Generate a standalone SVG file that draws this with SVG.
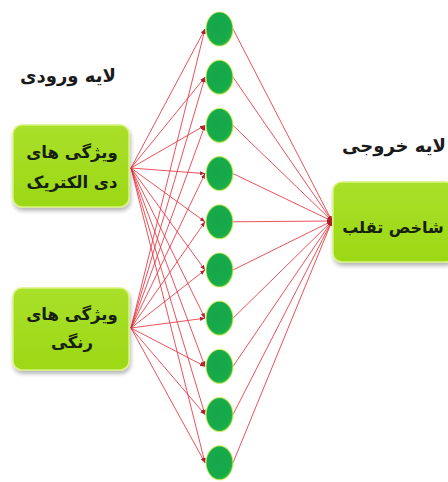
<svg xmlns="http://www.w3.org/2000/svg" width="448" height="482" viewBox="0 0 448 482">
  <style>
    .box { fill: url(#lime); stroke: #d9f27e; stroke-width: 1.5; filter: url(#shadow); }
    .lbl { font-family: "DejaVu Sans", sans-serif; font-weight: bold; fill: #16200f; text-anchor: middle; }
    .title { font-family: "DejaVu Sans", sans-serif; font-weight: bold; fill: #1a1a1a; text-anchor: middle; font-size: 18px; }
    .neuron { fill: url(#green); stroke: #d8f05a; stroke-width: 1.2; stroke-opacity: 0.7; filter: url(#soft); }
    .link { stroke: #e6343f; stroke-width: 1; stroke-opacity: 0.85; fill: none; }
  </style>
  <defs>
    <linearGradient id="lime" x1="0" y1="0" x2="0" y2="1">
      <stop offset="0" stop-color="#a9e02a"/>
      <stop offset="1" stop-color="#9bd815"/>
    </linearGradient>
    <radialGradient id="green" cx="0.45" cy="0.45" r="0.6">
      <stop offset="0" stop-color="#12a64c"/>
      <stop offset="0.75" stop-color="#14ab4a"/>
      <stop offset="1" stop-color="#3cbc3e"/>
    </radialGradient>
    <filter id="shadow" x="-10%" y="-10%" width="125%" height="130%">
      <feGaussianBlur in="SourceAlpha" stdDeviation="2"/>
      <feOffset dx="1" dy="3" result="b"/>
      <feComponentTransfer><feFuncA type="linear" slope="0.3"/></feComponentTransfer>
      <feMerge><feMergeNode/><feMergeNode in="SourceGraphic"/></feMerge>
    </filter>
    <filter id="soft" x="-20%" y="-20%" width="140%" height="140%">
      <feGaussianBlur stdDeviation="0.6"/>
    </filter>
    <marker id="arrow" viewBox="0 0 6 6" refX="6" refY="3" markerWidth="5" markerHeight="5" orient="auto">
      <path d="M0,0.5 L6,3 L0,5.5 z" fill="#b0202a"/>
    </marker>
  </defs>

  <rect width="448" height="482" fill="#ffffff"/>

  <!-- connectors: inputs to hidden neurons, hidden neurons to output -->
  <g id="connectors" class="link" marker-end="url(#arrow)">
    <line x1="131" y1="168" x2="205" y2="29"/>
    <line x1="131" y1="168" x2="205" y2="77.2"/>
    <line x1="131" y1="168" x2="205" y2="125.4"/>
    <line x1="131" y1="168" x2="205" y2="173.6"/>
    <line x1="131" y1="168" x2="205" y2="221.8"/>
    <line x1="131" y1="168" x2="205" y2="270"/>
    <line x1="131" y1="168" x2="205" y2="318.2"/>
    <line x1="131" y1="168" x2="205" y2="366.4"/>
    <line x1="131" y1="168" x2="205" y2="414.6"/>
    <line x1="131" y1="168" x2="205" y2="462.8"/>
    <line x1="131" y1="328" x2="205" y2="29"/>
    <line x1="131" y1="328" x2="205" y2="77.2"/>
    <line x1="131" y1="328" x2="205" y2="125.4"/>
    <line x1="131" y1="328" x2="205" y2="173.6"/>
    <line x1="131" y1="328" x2="205" y2="221.8"/>
    <line x1="131" y1="328" x2="205" y2="270"/>
    <line x1="131" y1="328" x2="205" y2="318.2"/>
    <line x1="131" y1="328" x2="205" y2="366.4"/>
    <line x1="131" y1="328" x2="205" y2="414.6"/>
    <line x1="131" y1="328" x2="205" y2="462.8"/>
    <line x1="233" y1="29" x2="332" y2="221"/>
    <line x1="233" y1="77.2" x2="332" y2="221"/>
    <line x1="233" y1="125.4" x2="332" y2="221"/>
    <line x1="233" y1="173.6" x2="332" y2="221"/>
    <line x1="233" y1="221.8" x2="332" y2="221"/>
    <line x1="233" y1="270" x2="332" y2="221"/>
    <line x1="233" y1="318.2" x2="332" y2="221"/>
    <line x1="233" y1="366.4" x2="332" y2="221"/>
    <line x1="233" y1="414.6" x2="332" y2="221"/>
    <line x1="233" y1="462.8" x2="332" y2="221"/>
  </g>

  <!-- layer titles -->
  <text class="title" x="68" y="82">لایه ورودی</text>
  <text class="title" x="394" y="152" font-size="17">لایه خروجی</text>

  <!-- input nodes -->
  <g id="input-dielectric">
    <rect class="box" x="13" y="125" width="116" height="82" rx="9"/>
    <text class="lbl" x="72" y="158" font-size="16.5">ویژگی های</text>
    <text class="lbl" x="72" y="188" font-size="16.5">دی الکتریک</text>
  </g>
  <g id="input-color">
    <rect class="box" x="13" y="288" width="116" height="82" rx="9"/>
    <text class="lbl" x="72" y="320" font-size="16.5">ویژگی های</text>
    <text class="lbl" x="72" y="348" font-size="16.5">رنگی</text>
  </g>

  <!-- hidden neurons -->
  <g id="hidden-1"><ellipse class="neuron" cx="219.5" cy="29" rx="13.5" ry="17"/></g>
  <g id="hidden-2"><ellipse class="neuron" cx="219.5" cy="77.2" rx="13.5" ry="17"/></g>
  <g id="hidden-3"><ellipse class="neuron" cx="219.5" cy="125.4" rx="13.5" ry="17"/></g>
  <g id="hidden-4"><ellipse class="neuron" cx="219.5" cy="173.6" rx="13.5" ry="17"/></g>
  <g id="hidden-5"><ellipse class="neuron" cx="219.5" cy="221.8" rx="13.5" ry="17"/></g>
  <g id="hidden-6"><ellipse class="neuron" cx="219.5" cy="270" rx="13.5" ry="17"/></g>
  <g id="hidden-7"><ellipse class="neuron" cx="219.5" cy="318.2" rx="13.5" ry="17"/></g>
  <g id="hidden-8"><ellipse class="neuron" cx="219.5" cy="366.4" rx="13.5" ry="17"/></g>
  <g id="hidden-9"><ellipse class="neuron" cx="219.5" cy="414.6" rx="13.5" ry="17"/></g>
  <g id="hidden-10"><ellipse class="neuron" cx="219.5" cy="462.8" rx="13.5" ry="17"/></g>

  <!-- output node -->
  <g id="output-fraud">
    <rect class="box" x="333" y="182" width="122" height="80" rx="9"/>
    <text class="lbl" x="393" y="233" font-size="16">شاخص تقلب</text>
  </g>
</svg>
